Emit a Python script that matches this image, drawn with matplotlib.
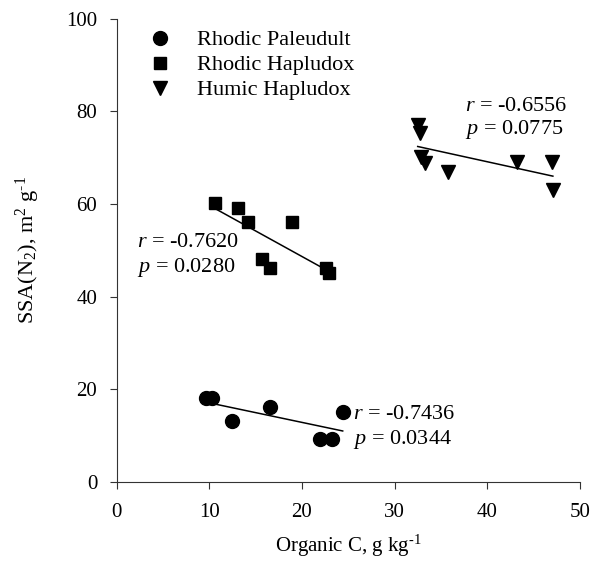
import matplotlib
matplotlib.use("Agg")
import matplotlib.pyplot as plt
import numpy as np

plt.rcParams["font.family"] = ["Liberation Serif", "DejaVu Serif"]
plt.rcParams["mathtext.fontset"] = "custom"
plt.rcParams["mathtext.rm"] = "Liberation Serif"
plt.rcParams["mathtext.it"] = "Liberation Serif:italic"

# values
paleudult_x = [9.6, 10.3, 12.4, 16.5, 22.0, 23.2, 24.4]
paleudult_y = [18.1, 18.1, 13.2, 16.2, 9.2, 9.2, 15.1]
hapludox_r_x = [10.6, 13.1, 14.2, 18.9, 15.7, 16.5, 22.6, 22.9]
hapludox_r_y = [60.2, 59.2, 56.2, 56.2, 48.2, 46.2, 46.2, 45.1]
hapludox_h_x = [32.5, 32.7, 32.9, 33.3, 35.8, 43.2, 47.0, 47.1]
hapludox_h_y = [77.1, 75.4, 70.2, 68.9, 67.0, 69.1, 69.1, 63.1]

labels = ["Rhodic Paleudult", "Rhodic Hapludox", "Humic Hapludox"]
stats = [("-0.7436", "0.0344"), ("-0.7620", "0.0280"), ("-0.6556", "0.0775")]

fig = plt.figure(figsize=(6.02, 5.69), dpi=100)
ax = fig.add_axes([0.194, 0.153, 0.769, 0.814])

series = [(paleudult_x, paleudult_y, "o", 10),
          (hapludox_r_x, hapludox_r_y, "s", 9),
          (hapludox_h_x, hapludox_h_y, "v", 10)]

for (xs, ys, m, ms), lab in zip(series, labels):
    ax.plot(xs, ys, linestyle="none", marker=m, markersize=ms, color="black", label=lab)
    xs_a, ys_a = np.asarray(xs), np.asarray(ys)
    slope, icpt = np.polyfit(xs_a, ys_a, 1)
    xl = np.array([xs_a.min(), xs_a.max()])
    ax.plot(xl, slope * xl + icpt, color="black", linewidth=1.1)

# annotation positions (data coords, left edge)
ann_pos = [(25.5, 14.5, 9.1), (2.2, 51.6, 46.4), (37.6, 81.0, 76.2)]
for (x0, yr, yp), (r, p) in zip(ann_pos, stats):
    ax.text(x0, yr, "$r$ = %s" % r, fontsize=16, va="center")
    ax.text(x0, yp, "$p$ = %s" % p, fontsize=16, va="center")

ax.set_xlim(0, 50)
ax.set_ylim(0, 100)
ax.set_xticks(np.arange(0, 51, 10))
ax.set_yticks(np.arange(0, 101, 20))
for side in ["top", "right"]:
    ax.spines[side].set_visible(False)
for side in ["left", "bottom"]:
    ax.spines[side].set_color("#333333")
ax.tick_params(direction="out", length=5, labelsize=15, color="#333333")
ax.tick_params(axis="x", pad=10)
ax.tick_params(axis="y", pad=9)
ax.set_xlabel(r"Organic C, g kg$^{\text{-1}}$", fontsize=15)
ax.set_ylabel(r"SSA(N$_2$), m$^2$ g$^{\text{-1}}$", fontsize=16)
ax.xaxis.set_label_coords(0.5, -0.11)
ax.yaxis.set_label_coords(-0.162, 0.5)

ax.legend(loc="upper left", bbox_to_anchor=(0.069, 0.976), frameon=False, fontsize=16,
          borderaxespad=0, borderpad=0, handletextpad=1.18, labelspacing=0.2,
          handlelength=1.0)

fig.savefig("out.png", dpi=100)
